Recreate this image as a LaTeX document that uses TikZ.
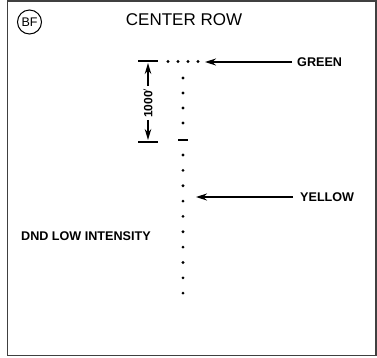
\documentclass[tikz,border=0pt]{standalone}
\usepackage{fontspec}
\setmainfont{Liberation Sans}
\usetikzlibrary{arrows.meta}
\begin{document}
\begin{tikzpicture}[x=1pt,y=-1pt,
  lbl/.style={font=\bfseries\fontsize{12.6}{13}\selectfont, inner sep=0pt, anchor=west},
  lite/.style={circle, fill=black, inner sep=0pt, minimum size=3.1pt},
  bar/.style={line width=1.3pt},
  pointer/.style={line width=1.3pt, -{Stealth[length=11pt,width=7pt]}},
  dim/.style={line width=1.3pt, -{Stealth[length=11pt,width=6.5pt]}}]
\useasboundingbox (0,0) rectangle (377,357);
\draw[line width=1.3pt, black!75] (7.5,1) rectangle (376,355.5);
% header
\node[circle, draw, line width=1pt, minimum size=24pt, inner sep=0pt,
      font=\fontsize{12.5}{13}\selectfont] (bf) at (29.5,22) {BF};
\node[font=\fontsize{17}{18}\selectfont, inner sep=0pt] (title) at (184,20) {CENTER ROW};
% threshold bars
\coordinate (tl) at (138,61);
\coordinate (tr) at (158,61);
\draw[bar] (tl) -- (tr);
\coordinate (bl) at (138,142);
\coordinate (br) at (158,142);
\draw[bar] (bl) -- (br);
\coordinate (sl) at (178,140);
\coordinate (sr) at (188,140);
\draw[bar] (sl) -- (sr);
% horizontal dots (green)
\foreach \i/\x in {1/168,2/178,3/188,4/198}
  \node[lite] (h\i) at (\x,61.5) {};
% vertical dots upper
\foreach \i/\y in {1/78,2/93,3/108,4/123}
  \node[lite] (u\i) at (183,\y) {};
% vertical dots lower
\foreach \i in {0,...,9}
  \node[lite] (d\i) at (183,{155+15.35*\i}) {};
% dimension
\node[font=\bfseries\fontsize{12}{13}\selectfont, rotate=90, inner sep=1pt] (dimtxt) at (148,103) {1000$'$};
\coordinate (dtop) at (148,63);
\coordinate (dbot) at (148,140);
\draw[dim] (dimtxt.east) ++(0,-1) -- (dtop);
\draw[dim] (dimtxt.west) ++(0,1) -- (dbot);
% labels
\node[lbl] (green) at (297,62) {GREEN};
\node[lbl] (yellow) at (300,197) {YELLOW};
\node[lbl] (dnd) at (21,236) {DND LOW INTENSITY};
\coordinate (gtip) at (205,62);
\coordinate (ytip) at (196,197);
\draw[pointer] (green.west) ++(-5,0) -- (gtip);
\draw[pointer] (yellow.west) ++(-7,0) -- (ytip);
\end{tikzpicture}
\end{document}
